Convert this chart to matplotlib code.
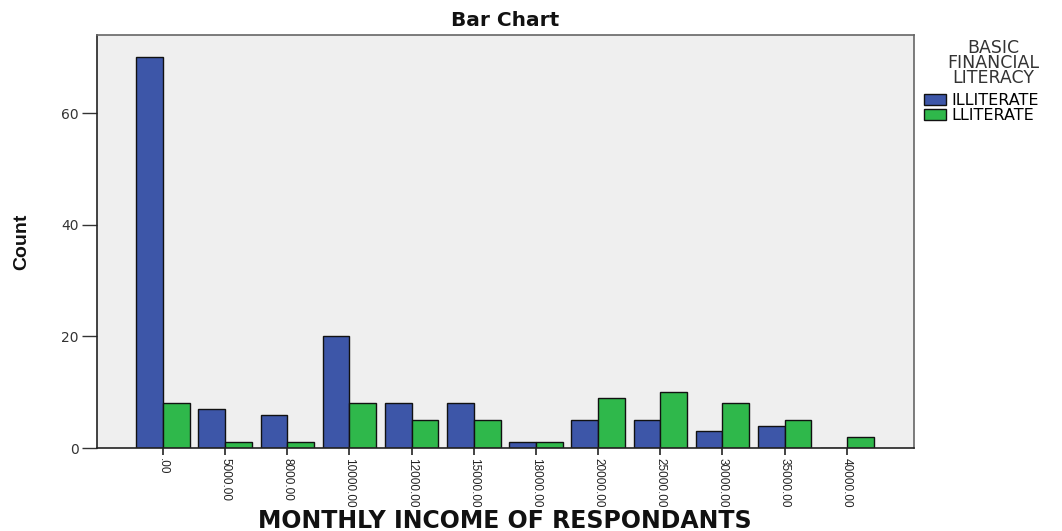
import matplotlib
matplotlib.use("Agg")
import matplotlib.pyplot as plt
import numpy as np
from matplotlib.patches import Patch

# データ
income_labels = [".00", "5000.00", "8000.00", "10000.00", "12000.00", "15000.00",
                 "18000.00", "20000.00", "25000.00", "30000.00", "35000.00", "40000.00"]
illiterate = [70, 7, 6, 20, 8, 8, 1, 5, 5, 3, 4, 0]
literate = [8, 1, 1, 8, 5, 5, 1, 9, 10, 8, 5, 2]
series_names = ["ILLITERATE", "LLITERATE"]
y_ticks = [0, 20, 40, 60]

blue = "#3d56a8"
green = "#2fb84b"

fig = plt.figure(figsize=(10.62, 5.31), dpi=100)
ax = fig.add_axes([97 / 1062, 1 - 448 / 531, (914 - 97) / 1062, (448 - 35) / 531])
ax.set_facecolor("#efefef")

x = np.arange(len(income_labels))
w = 0.43
ax.bar(x - w / 2, illiterate, width=w, color=blue, edgecolor="#111111", linewidth=1.0)
ax.bar(x + w / 2, literate, width=w, color=green, edgecolor="#111111", linewidth=1.0)

ax.set_xlim(-1.06, len(income_labels) - 1 + 1.08)
ax.set_ylim(0, 74)

# 目盛り
ax.set_yticks(y_ticks)
ax.set_yticklabels([str(v) for v in y_ticks], fontsize=10, color="#333333")
ax.tick_params(axis="y", direction="out", length=11, width=1.0, color="#333333", pad=2)
ax.set_xticks(x)
ax.set_xticklabels(income_labels, rotation=270, fontsize=8.5, color="#222222",
                   family="Liberation Sans")
ax.tick_params(axis="x", direction="out", length=5, width=1.2, color="#222222", pad=2)

for s in ax.spines.values():
    s.set_linewidth(1.2)
    s.set_color("#222222")
ax.spines["top"].set_color("#666666")
ax.spines["right"].set_color("#666666")

# ラベル
fig.text(22 / 1062, 1 - 242 / 531, "Count", rotation=90, ha="center", va="center",
         fontsize=14, fontweight="bold", family="Liberation Sans", color="#111111")
fig.text(505 / 1062, 1 - 521 / 531, "MONTHLY INCOME OF RESPONDANTS", ha="center", va="center",
         fontsize=17, fontweight="bold", color="#111111")
fig.text(505 / 1062, 1 - 20 / 531, "Bar Chart", ha="center", va="center",
         fontsize=14.5, fontweight="bold", color="#111111")

# 凡例
handles = [Patch(facecolor=blue, edgecolor="#111111"), Patch(facecolor=green, edgecolor="#111111")]
fig.text(993 / 1062, 1 - 63 / 531, "BASIC\nFINANCIAL\nLITERACY", ha="center", va="center",
         fontsize=12.5, color="#333333", linespacing=0.8)
leg = fig.legend(handles, series_names, loc="upper left", bbox_to_anchor=(924 / 1062, 1 - 93 / 531),
                 frameon=False, fontsize=11.5, handlelength=1.4, handleheight=0.75,
                 handletextpad=0.3, labelspacing=0.0, borderpad=0, borderaxespad=0)

fig.savefig("out.png", dpi=100)
